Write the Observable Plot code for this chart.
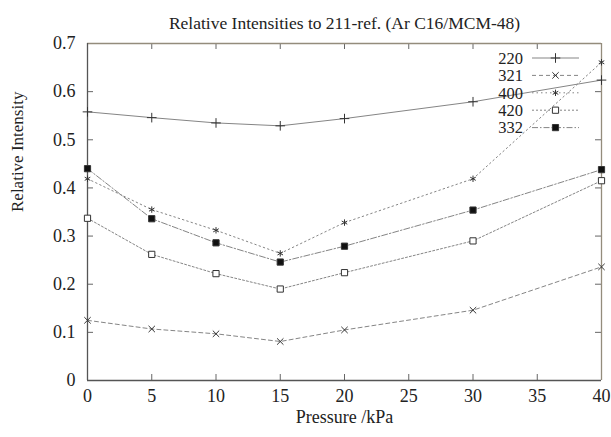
<!DOCTYPE html>
<html><head><meta charset="utf-8">
<script src="https://cdn.jsdelivr.net/npm/d3@7"></script>
<script src="https://cdn.jsdelivr.net/npm/@observablehq/plot@0.6"></script>
<style>body{margin:0;background:#fff} svg{display:block}</style>
</head><body><div id="chart"></div>
<script>
const titleText = "Relative Intensities to 211-ref. (Ar C16/MCM-48)";
const xLabel = "Pressure /kPa";
const yLabel = "Relative Intensity";
const pressure = [0, 5, 10, 15, 20, 30, 40];
const s220 = [0.558, 0.546, 0.535, 0.529, 0.544, 0.579, 0.624];
const s321 = [0.125, 0.107, 0.097, 0.081, 0.105, 0.146, 0.236];
const s400 = [0.419, 0.355, 0.312, 0.264, 0.328, 0.419, 0.661];
const s420 = [0.337, 0.262, 0.222, 0.190, 0.224, 0.290, 0.415];
const s332 = [0.440, 0.336, 0.286, 0.246, 0.279, 0.354, 0.438];
const seriesNames = ["220", "321", "400", "420", "332"];
const seriesValues = [s220, s321, s400, s420, s332];
const xTicks = [0, 5, 10, 15, 20, 25, 30, 35, 40];
const yTicks = [0, 0.1, 0.2, 0.3, 0.4, 0.5, 0.6, 0.7];

const styles = {
  "220": {dash: null, symbol: "plus", fill: "none", r: 3.2},
  "321": {dash: "4,3", symbol: "times", fill: "none", r: 3},
  "400": {dash: "1.5,3", symbol: "asterisk", fill: "none", r: 3},
  "420": {dash: "2,2", symbol: "square", fill: "white", r: 3.5},
  "332": {dash: "6,2,1.5,2", symbol: "square", fill: "#111", r: 3.5}
};
const symbolMap = {plus: d3.symbolPlus, times: d3.symbolTimes, asterisk: d3.symbolAsterisk, square: d3.symbolSquare};
const lineColor = "#858585";
const markColor = "#333";

const rows = [];
seriesNames.forEach((name, i) => pressure.forEach((p, j) => rows.push({series: name, p, v: seriesValues[i][j]})));

const W = 611, H = 437, mL = 87, mR = 10, mT = 43, mB = 57;
const frameW = W - mL - mR, frameH = H - mT - mB;
const tick = 6;

function legendMark(index, scales, values, dims) {
  const g = d3.create("svg:g");
  const right = dims.width - dims.marginRight;
  const top = dims.marginTop;
  seriesNames.forEach((name, i) => {
    const st = styles[name];
    const y = top + 15 + i * 17.4;
    g.append("text").attr("x", right - 78).attr("y", y).attr("dy", "0.35em")
      .attr("text-anchor", "end").attr("font-size", 16.5).attr("fill", "#222").text(name);
    g.append("line").attr("x1", right - 69).attr("x2", right - 22).attr("y1", y).attr("y2", y)
      .attr("stroke", lineColor).attr("stroke-width", 1)
      .attr("stroke-dasharray", st.dash);
    g.append("path").attr("transform", `translate(${right - 45.5},${y})`)
      .attr("d", d3.symbol(symbolMap[st.symbol], st.r * st.r * Math.PI)())
      .attr("fill", st.fill).attr("stroke", markColor).attr("stroke-width", 1);
  });
  return g.node();
}

const marks = [
  Plot.text([titleText], {frameAnchor: "top", dy: -27, fontSize: 17.5, fill: "#222"}),
  Plot.text([xLabel], {frameAnchor: "bottom", dy: 42, fontSize: 18, fill: "#222"}),
  Plot.text([yLabel], {frameAnchor: "left", dx: -70, rotate: -90, fontSize: 17, fill: "#222"}),
  Plot.axisX({ticks: xTicks, tickSize: 0, tickPadding: 9, label: null, fontSize: 18, tickFormat: d => String(d), fill: "#222"}),
  Plot.axisY({ticks: yTicks, tickSize: 0, tickPadding: 12, label: null, fontSize: 18, tickFormat: d => String(+d.toFixed(1)), fill: "#222"}),
  Plot.tickX(xTicks, {x: d => d, insetTop: frameH - tick, stroke: "#666"}),
  Plot.tickX(xTicks, {x: d => d, insetBottom: frameH - tick, stroke: "#666"}),
  Plot.tickY(yTicks, {y: d => d, insetRight: frameW - tick, stroke: "#666"}),
  Plot.tickY(yTicks, {y: d => d, insetLeft: frameW - tick, stroke: "#666"}),
  Plot.ruleX([40], {stroke: "#948c7c", strokeWidth: 1.3}),
  Plot.ruleY([0.7], {stroke: "#948c7c", strokeWidth: 1.3}),
  Plot.ruleX([0], {stroke: "#555", strokeWidth: 1.3}),
  Plot.ruleY([0], {stroke: "#555", strokeWidth: 1.3}),
  ...seriesNames.map(name => Plot.line(rows.filter(r => r.series === name), {
    x: "p", y: "v", stroke: lineColor, strokeWidth: 1, strokeDasharray: styles[name].dash
  })),
  ...seriesNames.map(name => Plot.dot(rows.filter(r => r.series === name), {
    x: "p", y: "v", symbol: () => styles[name].symbol, r: styles[name].r,
    stroke: markColor, fill: styles[name].fill, strokeWidth: 1
  })),
  legendMark
];

const chart = Plot.plot({
  width: W, height: H,
  marginLeft: mL, marginRight: mR, marginTop: mT, marginBottom: mB,
  style: {fontFamily: "'Liberation Serif', 'DejaVu Serif', serif", background: "#fff", overflow: "visible"},
  x: {domain: [0, 40]},
  y: {domain: [0, 0.7]},
  symbol: {type: "identity"},
  marks
});
document.getElementById("chart").appendChild(chart);
</script>
</body></html>
